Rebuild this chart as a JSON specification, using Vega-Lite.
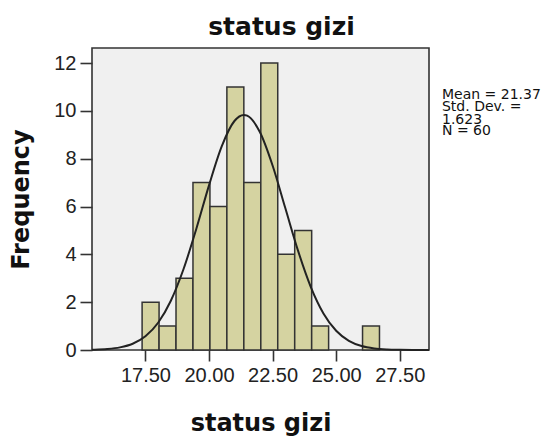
{
  "$schema": "https://vega.github.io/schema/vega-lite/v6.json",
  "width": 337,
  "height": 302,
  "autosize": {"type": "none"},
  "padding": {"left": 92, "top": 48, "right": 122, "bottom": 88},
  "background": "#ffffff",
  "title": {
    "text": "status gizi",
    "font": "DejaVu Sans",
    "fontSize": 25,
    "fontWeight": "bold",
    "color": "#111111",
    "anchor": "middle",
    "dx": 21,
    "offset": 8
  },
  "config": {
    "view": {"stroke": "#333333", "strokeWidth": 1.6, "fill": "#f0f0f0"},
    "axis": {
      "grid": false,
      "domain": false,
      "labelFont": "Liberation Sans",
      "labelFontSize": 20,
      "labelColor": "#222222",
      "tickColor": "#333333",
      "tickWidth": 1.6,
      "titleFont": "DejaVu Sans",
      "titleFontWeight": "bold",
      "titleFontSize": 24,
      "titleColor": "#111111"
    }
  },
  "datasets": {
    "bins": [
      {"start": 17.37, "end": 18.037, "count": 2},
      {"start": 18.037, "end": 18.703, "count": 1},
      {"start": 18.703, "end": 19.37, "count": 3},
      {"start": 19.37, "end": 20.037, "count": 7},
      {"start": 20.037, "end": 20.703, "count": 6},
      {"start": 20.703, "end": 21.37, "count": 11},
      {"start": 21.37, "end": 22.037, "count": 7},
      {"start": 22.037, "end": 22.703, "count": 12},
      {"start": 22.703, "end": 23.37, "count": 4},
      {"start": 23.37, "end": 24.037, "count": 5},
      {"start": 24.037, "end": 24.703, "count": 1},
      {"start": 26.037, "end": 26.703, "count": 1}
    ],
    "curve": [
      {"x": 15.4, "y": 0.011},
      {"x": 15.5, "y": 0.014},
      {"x": 16.0, "y": 0.041},
      {"x": 16.5, "y": 0.109},
      {"x": 17.0, "y": 0.262},
      {"x": 17.5, "y": 0.573},
      {"x": 18.0, "y": 1.139},
      {"x": 18.5, "y": 2.06},
      {"x": 19.0, "y": 3.386},
      {"x": 19.5, "y": 5.061},
      {"x": 20.0, "y": 6.885},
      {"x": 20.5, "y": 8.515},
      {"x": 21.0, "y": 9.577},
      {"x": 21.37, "y": 9.83},
      {"x": 21.5, "y": 9.799},
      {"x": 22.0, "y": 9.116},
      {"x": 22.5, "y": 7.715},
      {"x": 23.0, "y": 5.937},
      {"x": 23.5, "y": 4.155},
      {"x": 24.0, "y": 2.645},
      {"x": 24.5, "y": 1.531},
      {"x": 25.0, "y": 0.806},
      {"x": 25.5, "y": 0.386},
      {"x": 26.0, "y": 0.168},
      {"x": 26.5, "y": 0.067},
      {"x": 27.0, "y": 0.024},
      {"x": 27.5, "y": 0.008},
      {"x": 28.0, "y": 0.002},
      {"x": 28.65, "y": 0.0}
    ],
    "stats": [
      {"label": "Mean = 21.37", "x": 29.16, "y": 10.51},
      {"label": "Std. Dev. =", "x": 29.16, "y": 10.0},
      {"label": "1.623", "x": 29.16, "y": 9.47},
      {"label": "N = 60", "x": 29.16, "y": 8.98}
    ]
  },
  "layer": [
    {
      "data": {"name": "bins"},
      "mark": {"type": "bar", "fill": "#d5d3a1", "stroke": "#333333", "strokeWidth": 1.5},
      "encoding": {
        "x": {
          "field": "start",
          "type": "quantitative",
          "scale": {"domain": [15.4, 28.65], "nice": false, "zero": false},
          "axis": {
            "values": [17.5, 20, 22.5, 25, 27.5],
            "format": ".2f",
            "tickSize": 11,
            "labelPadding": 4,
            "title": "status gizi",
            "titleBaseline": "alphabetic",
            "titleY": 80
          }
        },
        "x2": {"field": "end"},
        "y": {
          "field": "count",
          "type": "quantitative",
          "scale": {"domain": [0, 12.63], "nice": false, "zero": true},
          "axis": {
            "values": [0, 2, 4, 6, 8, 10, 12],
            "tickSize": 12,
            "labelPadding": 4,
            "title": "Frequency",
            "titleBaseline": "alphabetic",
            "titleX": -64
          }
        },
        "y2": {"datum": 0}
      }
    },
    {
      "data": {"name": "curve"},
      "mark": {"type": "line", "color": "#222222", "strokeWidth": 2, "interpolate": "monotone"},
      "encoding": {
        "x": {"field": "x", "type": "quantitative"},
        "y": {"field": "y", "type": "quantitative"}
      }
    },
    {
      "data": {"name": "stats"},
      "mark": {"type": "text", "font": "DejaVu Sans", "fontSize": 14, "color": "#111111", "align": "left", "baseline": "alphabetic"},
      "encoding": {
        "x": {"field": "x", "type": "quantitative"},
        "y": {"field": "y", "type": "quantitative"},
        "text": {"field": "label"}
      }
    }
  ]
}
